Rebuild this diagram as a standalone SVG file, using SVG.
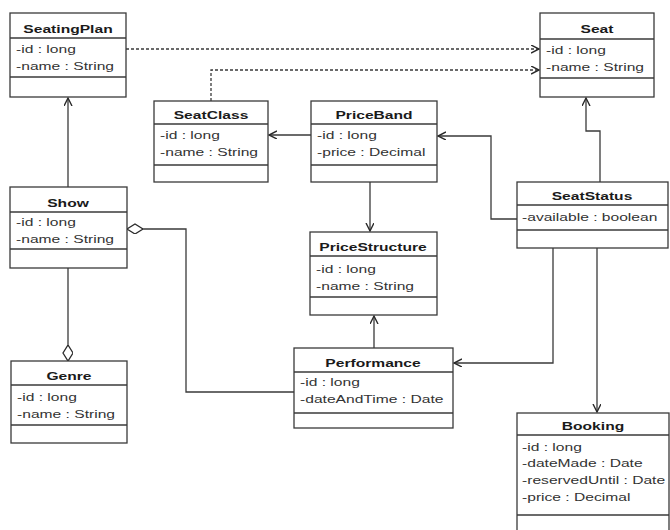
<svg xmlns="http://www.w3.org/2000/svg" width="670" height="530" viewBox="0 0 670 530">
  <style>
    .box { fill: #ffffff; stroke: #3a3a3a; stroke-width: 1.3; }
    .sep { stroke: #3a3a3a; stroke-width: 1.3; }
    .hd { font-family: "Liberation Sans", Arial, sans-serif; font-size: 11px; font-weight: bold; fill: #1a1a1a; text-anchor: middle; }
    .at { font-family: "Liberation Sans", Arial, sans-serif; font-size: 11px; fill: #333333; }
    .ln { fill: none; stroke: #3a3a3a; stroke-width: 1.3; }
    .dep { stroke-dasharray: 3 2; }
  </style>
  <defs>
    <marker id="open" markerUnits="userSpaceOnUse" markerWidth="12" markerHeight="12" refX="8" refY="4" orient="auto">
      <path d="M0,0 L8,4 L0,8" fill="none" stroke="#2a2a2a" stroke-width="1.4"/>
    </marker>
    <marker id="diamond" markerUnits="userSpaceOnUse" markerWidth="18" markerHeight="12" refX="16" refY="5" orient="auto">
      <path d="M0,5 L8,0 L16,5 L8,10 Z" fill="#ffffff" stroke="#2a2a2a" stroke-width="1.3"/>
    </marker>
  </defs>
  <rect width="670" height="530" fill="#ffffff"/>

  <g id="connectors">
    <path class="ln dep" d="M126,49 H539" marker-end="url(#open)"/>
    <path class="ln dep" d="M211,101 V70 H539" marker-end="url(#open)"/>
    <path class="ln" d="M68,187 V98" marker-end="url(#open)"/>
    <path class="ln" d="M68,268 V361" marker-end="url(#diamond)"/>
    <path class="ln" d="M294,392 H186 V229 H127" marker-end="url(#diamond)"/>
    <path class="ln" d="M311,135 H269" marker-end="url(#open)"/>
    <path class="ln" d="M370,182 V231" marker-end="url(#open)"/>
    <path class="ln" d="M374,348 V316" marker-end="url(#open)"/>
    <path class="ln" d="M517,219 H491 V136 H438" marker-end="url(#open)"/>
    <path class="ln" d="M600,182 V131 H586 V98" marker-end="url(#open)"/>
    <path class="ln" d="M553,248 V363 H454" marker-end="url(#open)"/>
    <path class="ln" d="M597,248 V412" marker-end="url(#open)"/>
  </g>

  <g id="SeatingPlan">
    <rect class="box" x="10" y="13" width="116" height="84"/>
    <line class="sep" x1="10" y1="38" x2="126" y2="38"/>
    <line class="sep" x1="10" y1="77" x2="126" y2="77"/>
    <text class="hd" transform="translate(68,33) scale(1.42,1)">SeatingPlan</text>
    <text class="at" transform="translate(16,53) scale(1.42,1)">-id : long</text>
    <text class="at" transform="translate(16,70) scale(1.42,1)">-name : String</text>
  </g>

  <g id="Seat">
    <rect class="box" x="540" y="13" width="114" height="84"/>
    <line class="sep" x1="540" y1="39" x2="654" y2="39"/>
    <line class="sep" x1="540" y1="78" x2="654" y2="78"/>
    <text class="hd" transform="translate(597,33) scale(1.42,1)">Seat</text>
    <text class="at" transform="translate(546,54) scale(1.42,1)">-id : long</text>
    <text class="at" transform="translate(546,71) scale(1.42,1)">-name : String</text>
  </g>

  <g id="SeatClass">
    <rect class="box" x="154" y="101" width="114" height="81"/>
    <line class="sep" x1="154" y1="124" x2="268" y2="124"/>
    <line class="sep" x1="154" y1="165" x2="268" y2="165"/>
    <text class="hd" transform="translate(211,119) scale(1.42,1)">SeatClass</text>
    <text class="at" transform="translate(160,139) scale(1.42,1)">-id : long</text>
    <text class="at" transform="translate(160,156) scale(1.42,1)">-name : String</text>
  </g>

  <g id="PriceBand">
    <rect class="box" x="311" y="101" width="126" height="81"/>
    <line class="sep" x1="311" y1="124" x2="437" y2="124"/>
    <line class="sep" x1="311" y1="165" x2="437" y2="165"/>
    <text class="hd" transform="translate(374,119) scale(1.42,1)">PriceBand</text>
    <text class="at" transform="translate(317,139) scale(1.42,1)">-id : long</text>
    <text class="at" transform="translate(317,156) scale(1.42,1)">-price : Decimal</text>
  </g>

  <g id="SeatStatus">
    <rect class="box" x="517" y="182" width="151" height="66"/>
    <line class="sep" x1="517" y1="205" x2="668" y2="205"/>
    <line class="sep" x1="517" y1="230" x2="668" y2="230"/>
    <text class="hd" transform="translate(592,200) scale(1.42,1)">SeatStatus</text>
    <text class="at" transform="translate(522,221) scale(1.42,1)">-available : boolean</text>
  </g>

  <g id="Show">
    <rect class="box" x="10" y="187" width="117" height="81"/>
    <line class="sep" x1="10" y1="212" x2="127" y2="212"/>
    <line class="sep" x1="10" y1="249" x2="127" y2="249"/>
    <text class="hd" transform="translate(68,207) scale(1.42,1)">Show</text>
    <text class="at" transform="translate(16,226) scale(1.42,1)">-id : long</text>
    <text class="at" transform="translate(16,243) scale(1.42,1)">-name : String</text>
  </g>

  <g id="PriceStructure">
    <rect class="box" x="310" y="232" width="127" height="83"/>
    <line class="sep" x1="310" y1="256" x2="437" y2="256"/>
    <line class="sep" x1="310" y1="297" x2="437" y2="297"/>
    <text class="hd" transform="translate(373,251) scale(1.42,1)">PriceStructure</text>
    <text class="at" transform="translate(316,273) scale(1.42,1)">-id : long</text>
    <text class="at" transform="translate(316,290) scale(1.42,1)">-name : String</text>
  </g>

  <g id="Genre">
    <rect class="box" x="11" y="361" width="116" height="82"/>
    <line class="sep" x1="11" y1="385" x2="127" y2="385"/>
    <line class="sep" x1="11" y1="425" x2="127" y2="425"/>
    <text class="hd" transform="translate(69,380) scale(1.42,1)">Genre</text>
    <text class="at" transform="translate(17,401) scale(1.42,1)">-id : long</text>
    <text class="at" transform="translate(17,418) scale(1.42,1)">-name : String</text>
  </g>

  <g id="Performance">
    <rect class="box" x="294" y="348" width="159" height="80"/>
    <line class="sep" x1="294" y1="372" x2="453" y2="372"/>
    <line class="sep" x1="294" y1="413" x2="453" y2="413"/>
    <text class="hd" transform="translate(373,367) scale(1.42,1)">Performance</text>
    <text class="at" transform="translate(300,386) scale(1.42,1)">-id : long</text>
    <text class="at" transform="translate(300,403) scale(1.42,1)">-dateAndTime : Date</text>
  </g>

  <g id="Booking">
    <rect class="box" x="517" y="413" width="152" height="127"/>
    <line class="sep" x1="517" y1="435" x2="669" y2="435"/>
    <line class="sep" x1="517" y1="515" x2="669" y2="515"/>
    <text class="hd" transform="translate(593,430) scale(1.42,1)">Booking</text>
    <text class="at" transform="translate(522,451) scale(1.42,1)">-id : long</text>
    <text class="at" transform="translate(522,467) scale(1.42,1)">-dateMade : Date</text>
    <text class="at" transform="translate(522,484) scale(1.42,1)">-reservedUntil : Date</text>
    <text class="at" transform="translate(522,501) scale(1.42,1)">-price : Decimal</text>
  </g>
</svg>
